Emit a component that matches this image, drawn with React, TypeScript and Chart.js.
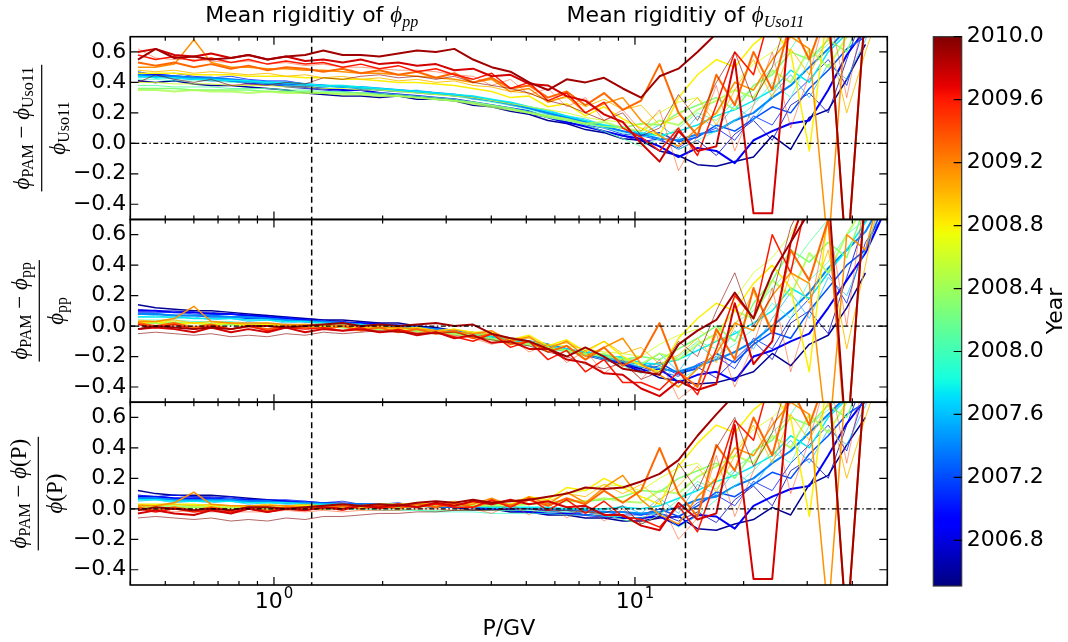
import React, { useEffect, useRef } from "react";
import { Chart, registerables } from "chart.js";

Chart.register(...registerables);

// ---------------- data ----------------
const rigidity = [
  0.42, 0.47, 0.53, 0.60, 0.67, 0.76, 0.85, 0.96, 1.08, 1.22,
  1.37, 1.55, 1.74, 1.96, 2.21, 2.49, 2.81, 3.16, 3.56, 4.01,
  4.52, 5.09, 5.74, 6.47, 7.29, 8.21, 9.25, 10.4, 11.7, 13.2,
  14.9, 16.8, 18.9, 21.3, 24.0, 27.0, 30.4, 34.3, 38.6, 43.5,
  48.0,
];

const years = [2006.58, 2006.72, 2006.88, 2007.05, 2007.22, 2007.40, 2007.58, 2007.75, 2007.92, 2008.10, 2008.28,
  2008.45, 2008.62, 2008.80, 2008.98, 2009.15, 2009.30, 2009.45, 2009.60, 2009.75, 2009.90, 2009.99];

// (phi_PAM - phi_Uso11) / phi_Uso11
const uso0658 = [0.41, 0.40, 0.41, 0.39, 0.38, 0.38, 0.37, 0.36, 0.35, 0.33, 0.32, 0.31, 0.31, 0.30, 0.31, 0.29, 0.29, 0.28, 0.25, 0.24, 0.21, 0.19, 0.15, 0.13, 0.09, 0.07, 0.03, 0.02, -0.05, -0.08, -0.14, -0.15, -0.12, -0.09, 0.05, -0.04, 0.17, 0.22, 0.42, 0.65, null];
const uso0672 = [0.45, 0.43, 0.44, 0.42, 0.41, 0.41, 0.39, 0.39, 0.37, 0.36, 0.35, 0.34, 0.33, 0.33, 0.31, 0.31, 0.29, 0.28, 0.27, 0.24, 0.23, 0.19, 0.17, 0.13, 0.12, 0.08, 0.05, 0.01, 0.03, -0.04, 0.02, -0.08, 0.06, 0.15, 0.02, 0.25, 0.33, 0.20, 0.55, 0.90, 0.90];
const uso0688 = [0.46, 0.45, 0.44, 0.43, 0.43, 0.41, 0.40, 0.39, 0.38, 0.37, 0.36, 0.35, 0.35, 0.33, 0.32, 0.31, 0.30, 0.29, 0.27, 0.25, 0.23, 0.21, 0.17, 0.14, 0.11, 0.08, 0.05, 0.03, -0.02, -0.09, -0.03, -0.05, -0.13, 0.02, 0.08, 0.13, 0.15, 0.35, 0.58, 0.75, 0.90];
const uso0705 = [0.47, 0.45, 0.46, 0.44, 0.43, 0.44, 0.42, 0.41, 0.41, 0.39, 0.38, 0.38, 0.36, 0.35, 0.35, 0.33, 0.32, 0.32, 0.29, 0.28, 0.25, 0.23, 0.19, 0.17, 0.12, 0.10, 0.06, 0.05, 0.02, -0.03, 0.05, 0.10, 0.02, 0.18, 0.12, 0.30, 0.42, 0.55, 0.38, 0.80, 0.90];
const uso0722 = [0.44, 0.44, 0.43, 0.42, 0.42, 0.41, 0.41, 0.40, 0.39, 0.38, 0.38, 0.37, 0.36, 0.35, 0.34, 0.34, 0.33, 0.31, 0.30, 0.28, 0.26, 0.23, 0.20, 0.17, 0.14, 0.11, 0.08, 0.05, 0.07, 0.01, 0.04, 0.12, 0.08, 0.16, 0.24, 0.20, 0.36, 0.48, 0.62, 0.70, 0.90];
const uso0740 = [0.45, 0.44, 0.44, 0.43, 0.43, 0.42, 0.41, 0.40, 0.40, 0.39, 0.38, 0.37, 0.37, 0.36, 0.35, 0.34, 0.33, 0.32, 0.30, 0.28, 0.26, 0.23, 0.20, 0.17, 0.14, 0.11, 0.08, 0.06, 0.03, 0.02, 0.06, 0.08, 0.15, 0.20, 0.30, 0.38, 0.50, 0.62, 0.75, 0.85, 0.90];
const uso0758 = [0.43, 0.44, 0.42, 0.43, 0.41, 0.42, 0.40, 0.41, 0.39, 0.39, 0.37, 0.38, 0.36, 0.36, 0.34, 0.35, 0.33, 0.32, 0.31, 0.28, 0.27, 0.24, 0.22, 0.18, 0.16, 0.12, 0.11, 0.06, 0.12, 0.03, 0.18, 0.10, 0.25, 0.15, 0.32, 0.45, 0.30, 0.52, 0.42, 0.68, 0.90];
const uso0775 = [0.44, 0.43, 0.43, 0.42, 0.42, 0.41, 0.41, 0.40, 0.40, 0.39, 0.38, 0.38, 0.37, 0.36, 0.35, 0.34, 0.33, 0.32, 0.31, 0.29, 0.27, 0.24, 0.21, 0.18, 0.15, 0.12, 0.10, 0.07, 0.05, 0.08, 0.12, 0.18, 0.22, 0.28, 0.35, 0.48, 0.40, 0.60, 0.72, 0.90, 0.90];
const uso0792 = [0.42, 0.42, 0.41, 0.41, 0.41, 0.40, 0.40, 0.39, 0.38, 0.38, 0.37, 0.37, 0.36, 0.35, 0.34, 0.33, 0.32, 0.31, 0.29, 0.27, 0.25, 0.22, 0.19, 0.16, 0.13, 0.10, 0.07, 0.04, 0.06, -0.04, 0.02, 0.08, 0.15, 0.25, 0.40, 0.30, 0.55, 0.65, 0.80, 0.90, 0.90];
const uso0810 = [0.38, 0.38, 0.37, 0.37, 0.37, 0.36, 0.36, 0.36, 0.35, 0.35, 0.34, 0.34, 0.33, 0.33, 0.32, 0.31, 0.30, 0.29, 0.27, 0.25, 0.23, 0.21, 0.18, 0.15, 0.12, 0.08, 0.03, -0.02, 0.03, 0.10, 0.20, 0.15, 0.28, 0.35, 0.50, 0.62, 0.80, 0.90, 0.90, 0.90, 0.90];
const uso0828 = [0.36, 0.36, 0.36, 0.35, 0.35, 0.35, 0.35, 0.34, 0.34, 0.34, 0.33, 0.33, 0.33, 0.32, 0.31, 0.30, 0.29, 0.28, 0.27, 0.25, 0.23, 0.20, 0.17, 0.15, 0.13, 0.11, 0.10, 0.13, 0.12, 0.20, 0.25, 0.30, 0.22, 0.38, 0.45, 0.60, 0.55, 0.68, 0.60, 0.90, 0.90];
const uso0845 = [0.35, 0.35, 0.34, 0.35, 0.34, 0.34, 0.33, 0.34, 0.33, 0.33, 0.33, 0.32, 0.32, 0.31, 0.31, 0.30, 0.29, 0.28, 0.26, 0.24, 0.22, 0.20, 0.18, 0.16, 0.13, 0.14, 0.10, 0.08, 0.15, 0.12, 0.22, 0.28, 0.35, 0.30, 0.48, 0.40, 0.62, 0.50, 0.70, 0.90, 0.90];
const uso0862 = [0.40, 0.40, 0.39, 0.39, 0.39, 0.38, 0.38, 0.38, 0.37, 0.37, 0.36, 0.36, 0.35, 0.35, 0.34, 0.33, 0.32, 0.31, 0.30, 0.28, 0.26, 0.24, 0.22, 0.20, 0.17, 0.15, 0.14, 0.12, 0.20, 0.27, 0.30, 0.18, 0.40, 0.52, 0.60, 0.72, 0.90, 0.90, 0.90, 0.90, 0.90];
const uso0880 = [0.46, 0.46, 0.46, 0.45, 0.45, 0.45, 0.44, 0.44, 0.44, 0.43, 0.43, 0.42, 0.42, 0.41, 0.40, 0.40, 0.39, 0.38, 0.36, 0.34, 0.30, 0.31, 0.24, 0.26, 0.18, 0.24, 0.16, 0.10, 0.05, 0.30, 0.45, 0.55, 0.50, 0.65, 0.75, 0.60, -0.05, 0.90, 0.90, 0.90, 0.90];
const uso0898 = [0.48, 0.47, 0.48, 0.46, 0.47, 0.46, 0.45, 0.46, 0.44, 0.45, 0.43, 0.44, 0.42, 0.43, 0.41, 0.42, 0.40, 0.41, 0.38, 0.37, 0.34, 0.33, 0.28, 0.30, 0.24, 0.29, 0.22, 0.25, 0.12, 0.18, 0.30, 0.12, 0.35, 0.55, 0.30, 0.62, 0.45, 0.70, 0.20, 0.60, 0.90];
const uso0915 = [0.50, 0.50, 0.52, 0.68, 0.53, 0.50, 0.50, 0.49, 0.49, 0.48, 0.48, 0.47, 0.46, 0.46, 0.45, 0.44, 0.43, 0.42, 0.40, 0.42, 0.34, 0.36, 0.27, 0.31, 0.20, 0.26, 0.30, 0.15, 0.05, -0.02, 0.10, 0.20, 0.40, 0.35, 0.55, 0.70, 0.62, -0.70, 0.90, 0.80, 0.90];
const uso0930 = [0.53, 0.51, 0.53, 0.50, 0.52, 0.49, 0.51, 0.48, 0.50, 0.49, 0.47, 0.49, 0.46, 0.48, 0.45, 0.47, 0.43, 0.46, 0.40, 0.43, 0.36, 0.38, 0.30, 0.34, 0.25, 0.33, 0.22, 0.28, 0.52, 0.20, 0.05, 0.45, 0.25, 0.60, 0.35, 0.80, 0.55, 0.90, -0.80, 0.90, 0.90];
const uso0945 = [0.62, 0.56, 0.55, 0.55, 0.54, 0.53, 0.54, 0.52, 0.53, 0.51, 0.52, 0.50, 0.50, 0.49, 0.48, 0.48, 0.47, 0.45, 0.44, 0.38, 0.42, 0.32, 0.36, 0.24, 0.30, 0.15, 0.22, 0.08, 0.22, -0.18, 0.05, 0.38, -0.05, 0.25, 0.60, 0.10, 0.45, 0.90, 0.30, 0.90, 0.90];
const uso0960 = [0.58, 0.55, 0.57, 0.54, 0.56, 0.53, 0.55, 0.52, 0.54, 0.52, 0.53, 0.50, 0.52, 0.49, 0.51, 0.47, 0.49, 0.45, 0.42, 0.46, 0.36, 0.40, 0.28, 0.33, 0.20, 0.27, 0.10, 0.04, -0.05, 0.10, -0.08, 0.25, 0.60, 0.45, 0.90, 0.70, 0.90, 0.90, 0.90, 0.90, 0.90];
const uso0975 = [0.60, 0.62, 0.58, 0.57, 0.59, 0.56, 0.58, 0.55, 0.57, 0.54, 0.55, 0.53, 0.55, 0.52, 0.53, 0.51, 0.52, 0.48, 0.49, 0.44, 0.45, 0.39, 0.38, 0.31, 0.28, 0.19, 0.14, 0.00, -0.12, 0.08, -0.05, -0.02, 0.55, -0.46, -0.46, 0.90, 0.90, 0.90, 0.90, 0.90, 0.90];
const uso0990 = [0.55, 0.62, 0.56, 0.57, 0.55, 0.56, 0.58, 0.55, 0.57, 0.58, 0.61, 0.58, 0.58, 0.57, 0.59, 0.61, 0.60, 0.62, 0.55, 0.50, 0.47, 0.40, 0.35, 0.42, 0.40, 0.43, 0.36, 0.30, 0.44, 0.49, 0.60, 0.72, 0.90, 0.90, 0.90, 0.90, 0.90, 0.90, -0.80, 0.90, null];
const uso0999 = [0.40, 0.45, 0.42, 0.40, 0.42, 0.38, 0.39, 0.38, 0.40, 0.39, 0.43, 0.42, 0.44, 0.45, 0.43, 0.44, 0.42, 0.44, 0.40, 0.38, 0.36, 0.33, 0.28, 0.25, 0.20, 0.15, 0.20, 0.05, 0.10, 0.32, 0.15, 0.40, 0.60, 0.28, 0.50, 0.90, 0.90, 0.90, 0.90, 0.90, 0.90];

// (phi_PAM - phi_pp) / phi_pp
const pp0658 = [0.14, 0.12, 0.11, 0.10, 0.10, 0.09, 0.08, 0.07, 0.06, 0.05, 0.04, 0.04, 0.03, 0.02, 0.02, 0.00, -0.01, -0.03, -0.05, -0.06, -0.09, -0.10, -0.13, -0.15, -0.19, -0.20, -0.25, -0.28, -0.34, -0.36, -0.38, -0.37, -0.34, -0.30, -0.18, -0.26, -0.12, -0.06, 0.12, 0.35, null];
const pp0672 = [0.11, 0.10, 0.10, 0.09, 0.09, 0.08, 0.07, 0.07, 0.05, 0.05, 0.04, 0.03, 0.02, 0.02, 0.00, 0.00, -0.02, -0.03, -0.04, -0.07, -0.08, -0.11, -0.12, -0.16, -0.17, -0.21, -0.24, -0.29, -0.26, -0.32, -0.27, -0.34, -0.22, -0.10, -0.22, 0.02, 0.10, -0.05, 0.32, 0.70, 0.90];
const pp0688 = [0.10, 0.10, 0.09, 0.09, 0.08, 0.08, 0.07, 0.06, 0.05, 0.04, 0.03, 0.02, 0.02, 0.01, 0.00, -0.01, -0.02, -0.03, -0.05, -0.07, -0.09, -0.11, -0.14, -0.16, -0.19, -0.22, -0.25, -0.30, -0.28, -0.37, -0.32, -0.30, -0.36, -0.20, -0.16, -0.10, -0.05, 0.12, 0.30, 0.48, 0.70];
const pp0705 = [0.09, 0.09, 0.09, 0.08, 0.07, 0.08, 0.06, 0.05, 0.06, 0.04, 0.03, 0.03, 0.01, 0.01, 0.01, -0.01, -0.02, -0.03, -0.05, -0.06, -0.09, -0.10, -0.13, -0.15, -0.19, -0.21, -0.25, -0.27, -0.30, -0.33, -0.25, -0.20, -0.28, -0.08, -0.15, 0.05, 0.18, 0.35, 0.15, 0.55, 0.70];
const pp0722 = [0.08, 0.08, 0.07, 0.07, 0.06, 0.06, 0.05, 0.05, 0.04, 0.03, 0.03, 0.02, 0.01, 0.00, -0.01, -0.01, -0.02, -0.04, -0.05, -0.07, -0.08, -0.11, -0.13, -0.16, -0.18, -0.21, -0.24, -0.27, -0.24, -0.31, -0.28, -0.18, -0.24, -0.12, -0.04, -0.08, 0.10, 0.25, 0.40, 0.50, 0.75];
const pp0740 = [0.08, 0.08, 0.07, 0.07, 0.07, 0.06, 0.06, 0.05, 0.04, 0.03, 0.03, 0.02, 0.01, 0.00, 0.00, -0.01, -0.02, -0.03, -0.05, -0.06, -0.08, -0.10, -0.12, -0.15, -0.18, -0.20, -0.23, -0.25, -0.28, -0.30, -0.26, -0.22, -0.17, -0.10, 0.00, 0.10, 0.22, 0.38, 0.50, 0.62, 0.80];
const pp0758 = [0.06, 0.07, 0.05, 0.06, 0.04, 0.05, 0.03, 0.04, 0.02, 0.03, 0.01, 0.02, 0.00, 0.00, -0.02, -0.01, -0.03, -0.04, -0.05, -0.08, -0.08, -0.11, -0.12, -0.16, -0.16, -0.20, -0.20, -0.26, -0.18, -0.30, -0.12, -0.22, -0.03, -0.15, 0.05, 0.22, 0.05, 0.32, 0.20, 0.50, 0.80];
const pp0775 = [0.06, 0.06, 0.06, 0.05, 0.05, 0.05, 0.04, 0.04, 0.03, 0.03, 0.02, 0.01, 0.01, 0.00, -0.01, -0.02, -0.03, -0.04, -0.05, -0.07, -0.09, -0.11, -0.13, -0.15, -0.17, -0.19, -0.21, -0.24, -0.25, -0.22, -0.16, -0.10, -0.05, 0.02, 0.10, 0.25, 0.18, 0.35, 0.50, 0.68, 0.85];
const pp0792 = [0.04, 0.04, 0.04, 0.03, 0.03, 0.03, 0.02, 0.02, 0.01, 0.00, 0.00, -0.01, -0.02, -0.02, -0.03, -0.03, -0.04, -0.05, -0.06, -0.08, -0.10, -0.12, -0.14, -0.16, -0.18, -0.21, -0.23, -0.27, -0.24, -0.36, -0.28, -0.20, -0.12, -0.02, 0.15, 0.05, 0.30, 0.42, 0.60, 0.70, 0.90];
const pp0810 = [0.03, 0.03, 0.02, 0.02, 0.02, 0.01, 0.01, 0.01, 0.00, 0.00, -0.01, -0.01, -0.02, -0.02, -0.03, -0.04, -0.05, -0.06, -0.07, -0.09, -0.11, -0.13, -0.15, -0.17, -0.19, -0.22, -0.26, -0.31, -0.27, -0.20, -0.10, -0.15, 0.02, 0.10, 0.25, 0.38, 0.55, 0.70, 0.90, 0.90, 0.90];
const pp0828 = [0.02, 0.02, 0.02, 0.02, 0.01, 0.01, 0.01, 0.01, 0.00, 0.00, 0.00, -0.01, -0.01, -0.02, -0.03, -0.03, -0.04, -0.05, -0.06, -0.08, -0.10, -0.12, -0.14, -0.16, -0.18, -0.20, -0.22, -0.20, -0.22, -0.15, -0.08, 0.00, -0.10, 0.15, 0.30, 0.50, 0.42, 0.55, 0.45, 0.80, 0.90];
const pp0845 = [0.02, 0.02, 0.01, 0.02, 0.01, 0.01, 0.00, 0.01, 0.00, 0.00, 0.00, -0.01, -0.01, -0.02, -0.02, -0.03, -0.04, -0.05, -0.07, -0.09, -0.11, -0.12, -0.14, -0.16, -0.19, -0.18, -0.22, -0.25, -0.18, -0.22, -0.12, -0.05, 0.10, 0.05, 0.30, 0.20, 0.48, 0.35, 0.60, 0.80, 0.90];
const pp0862 = [0.03, 0.03, 0.03, 0.02, 0.02, 0.02, 0.01, 0.01, 0.01, 0.00, 0.00, 0.00, -0.01, -0.01, -0.02, -0.02, -0.03, -0.04, -0.05, -0.06, -0.08, -0.10, -0.12, -0.13, -0.15, -0.17, -0.18, -0.20, -0.12, -0.06, -0.02, -0.10, 0.18, 0.35, 0.45, 0.60, 0.85, 0.90, 0.90, 0.90, 0.90];
const pp0880 = [0.02, 0.03, 0.01, 0.02, 0.01, 0.02, 0.00, 0.01, 0.00, 0.01, -0.01, 0.00, -0.01, 0.00, -0.02, -0.01, -0.03, -0.02, -0.04, -0.04, -0.09, -0.06, -0.13, -0.09, -0.17, -0.10, -0.20, -0.26, -0.30, -0.08, 0.05, 0.15, 0.10, 0.28, 0.40, 0.25, -0.30, 0.75, 0.90, 0.90, 0.90];
const pp0898 = [0.04, 0.03, 0.04, 0.02, 0.03, 0.02, 0.01, 0.02, 0.00, 0.01, 0.00, 0.01, -0.01, 0.00, -0.02, -0.01, -0.03, -0.02, -0.05, -0.05, -0.08, -0.08, -0.13, -0.11, -0.16, -0.10, -0.18, -0.14, -0.25, -0.19, -0.08, -0.24, 0.00, 0.22, -0.02, 0.35, 0.15, 0.50, -0.15, 0.40, 0.90];
const pp0915 = [0.03, 0.03, 0.05, 0.13, 0.03, 0.02, 0.02, 0.02, 0.01, 0.01, 0.01, 0.00, 0.00, -0.01, -0.01, -0.02, -0.03, -0.04, -0.05, -0.03, -0.10, -0.07, -0.15, -0.10, -0.20, -0.14, -0.08, -0.25, -0.32, -0.40, -0.28, -0.18, 0.02, -0.03, 0.20, 0.35, 0.28, -0.80, 0.60, 0.50, 0.90];
const pp0930 = [0.02, 0.00, 0.02, -0.01, 0.01, -0.02, 0.00, -0.02, 0.00, -0.01, -0.02, 0.00, -0.03, -0.01, -0.04, -0.02, -0.05, -0.03, -0.08, -0.05, -0.12, -0.10, -0.17, -0.13, -0.22, -0.14, -0.26, -0.20, 0.02, -0.30, -0.40, -0.02, -0.22, 0.25, -0.05, 0.50, 0.30, 0.70, -0.80, 0.90, 0.90];
const pp0945 = [0.01, 0.00, -0.01, 0.00, -0.01, -0.02, -0.01, -0.02, -0.01, -0.02, -0.02, -0.03, -0.03, -0.03, -0.04, -0.04, -0.05, -0.06, -0.08, -0.12, -0.08, -0.17, -0.12, -0.24, -0.16, -0.31, -0.22, -0.35, -0.22, -0.48, -0.38, -0.05, -0.40, -0.12, 0.25, -0.30, 0.10, 0.70, 0.00, 0.90, 0.90];
const pp0960 = [0.01, -0.01, 0.01, -0.02, 0.00, -0.02, 0.00, -0.03, -0.01, -0.02, -0.01, -0.03, -0.01, -0.04, -0.02, -0.05, -0.04, -0.07, -0.10, -0.05, -0.14, -0.10, -0.22, -0.16, -0.30, -0.22, -0.37, -0.37, -0.42, -0.30, -0.45, -0.15, 0.20, 0.05, 0.60, 0.35, 0.90, 0.90, 0.90, 0.90, 0.90];
const pp0975 = [-0.02, -0.01, -0.02, -0.04, -0.01, -0.04, -0.02, -0.04, -0.01, -0.04, -0.02, -0.03, -0.02, -0.04, -0.03, -0.06, -0.04, -0.08, -0.06, -0.11, -0.10, -0.15, -0.15, -0.22, -0.24, -0.31, -0.32, -0.41, -0.46, -0.36, -0.42, -0.38, 0.15, -0.25, -0.10, 0.55, 0.90, 0.90, 0.90, 0.90, 0.90];
const pp0990 = [-0.02, 0.00, -0.01, -0.02, -0.01, -0.02, 0.00, 0.00, -0.01, 0.00, 0.01, 0.02, 0.00, 0.01, 0.00, 0.01, 0.02, 0.00, 0.01, -0.05, -0.08, -0.10, -0.15, -0.20, -0.14, -0.20, -0.28, -0.30, -0.32, -0.12, -0.03, 0.04, 0.22, 0.05, 0.35, 0.55, 0.75, 0.90, -0.80, 0.90, null];
const pp0999 = [-0.05, -0.04, -0.05, -0.06, -0.05, -0.07, -0.06, -0.07, -0.05, -0.06, -0.04, -0.05, -0.04, -0.03, -0.04, -0.05, -0.05, -0.04, -0.07, -0.09, -0.11, -0.13, -0.17, -0.20, -0.25, -0.28, -0.24, -0.35, -0.30, -0.10, -0.20, 0.10, 0.35, 0.00, 0.20, 0.65, 0.90, 0.90, 0.90, 0.90, 0.90];

// (phi_PAM - phi(P)) / phi(P)
const fp0658 = [0.12, 0.10, 0.09, 0.09, 0.09, 0.08, 0.07, 0.06, 0.05, 0.04, 0.04, 0.03, 0.03, 0.02, 0.03, 0.02, 0.01, 0.01, -0.01, 0.00, -0.02, -0.02, -0.04, -0.04, -0.06, -0.06, -0.08, -0.08, -0.06, -0.05, -0.13, -0.14, -0.10, -0.07, 0.01, -0.04, 0.16, 0.22, 0.42, 0.60, null];
const fp0672 = [0.09, 0.08, 0.09, 0.08, 0.08, 0.07, 0.06, 0.06, 0.05, 0.05, 0.04, 0.04, 0.03, 0.03, 0.02, 0.02, 0.01, 0.01, 0.01, 0.00, 0.00, -0.02, -0.01, -0.03, -0.02, -0.04, -0.05, -0.07, -0.03, -0.08, -0.02, -0.09, 0.06, 0.15, 0.02, 0.25, 0.33, 0.20, 0.55, 0.88, 0.90];
const fp0688 = [0.08, 0.08, 0.07, 0.07, 0.07, 0.06, 0.06, 0.05, 0.05, 0.04, 0.03, 0.03, 0.03, 0.02, 0.02, 0.02, 0.02, 0.01, 0.01, 0.00, -0.01, -0.02, -0.03, -0.03, -0.04, -0.05, -0.06, -0.06, -0.05, -0.11, -0.04, -0.05, -0.13, 0.02, 0.08, 0.13, 0.15, 0.35, 0.56, 0.72, 0.90];
const fp0705 = [0.09, 0.08, 0.09, 0.08, 0.07, 0.08, 0.06, 0.06, 0.06, 0.05, 0.04, 0.05, 0.03, 0.03, 0.04, 0.02, 0.02, 0.03, 0.01, 0.02, 0.00, 0.00, -0.02, -0.01, -0.04, -0.02, -0.04, -0.04, -0.03, -0.06, 0.04, 0.09, 0.02, 0.18, 0.12, 0.30, 0.42, 0.55, 0.38, 0.78, 0.90];
const fp0722 = [0.07, 0.07, 0.06, 0.06, 0.06, 0.05, 0.05, 0.05, 0.04, 0.04, 0.04, 0.03, 0.03, 0.03, 0.03, 0.03, 0.02, 0.02, 0.02, 0.01, 0.01, 0.00, 0.00, -0.01, -0.01, -0.02, -0.02, -0.04, 0.00, -0.05, 0.02, 0.11, 0.08, 0.16, 0.24, 0.20, 0.36, 0.48, 0.62, 0.70, 0.90];
const fp0740 = [0.07, 0.07, 0.06, 0.06, 0.06, 0.06, 0.05, 0.05, 0.04, 0.04, 0.03, 0.03, 0.03, 0.03, 0.02, 0.02, 0.02, 0.02, 0.01, 0.01, 0.01, 0.00, 0.00, -0.01, -0.01, -0.02, -0.02, -0.03, -0.02, 0.01, 0.06, 0.08, 0.15, 0.20, 0.30, 0.38, 0.50, 0.62, 0.74, 0.85, 0.90];
const fp0758 = [0.05, 0.06, 0.04, 0.05, 0.04, 0.05, 0.03, 0.04, 0.03, 0.03, 0.02, 0.03, 0.02, 0.02, 0.01, 0.02, 0.01, 0.01, 0.02, 0.00, 0.01, 0.00, 0.01, -0.01, 0.01, -0.01, 0.02, -0.03, 0.07, -0.03, 0.16, 0.09, 0.25, 0.15, 0.32, 0.45, 0.30, 0.52, 0.42, 0.68, 0.90];
const fp0775 = [0.06, 0.06, 0.05, 0.05, 0.05, 0.05, 0.04, 0.04, 0.04, 0.03, 0.03, 0.03, 0.02, 0.02, 0.02, 0.02, 0.02, 0.02, 0.02, 0.01, 0.01, 0.01, 0.01, 0.00, 0.00, 0.00, 0.01, 0.00, 0.02, 0.07, 0.12, 0.18, 0.22, 0.28, 0.35, 0.48, 0.40, 0.60, 0.72, 0.90, 0.90];
const fp0792 = [0.03, 0.03, 0.03, 0.02, 0.02, 0.02, 0.02, 0.01, 0.01, 0.01, 0.00, 0.00, 0.00, -0.01, -0.01, -0.01, -0.02, -0.02, -0.02, -0.03, -0.03, -0.03, -0.03, -0.04, -0.04, -0.05, -0.05, -0.06, -0.02, -0.12, -0.04, 0.06, 0.15, 0.25, 0.38, 0.30, 0.55, 0.65, 0.80, 0.90, 0.90];
const fp0810 = [0.02, 0.02, 0.02, 0.01, 0.01, 0.01, 0.01, 0.00, 0.00, 0.00, 0.00, 0.00, 0.00, 0.00, 0.00, -0.01, -0.01, -0.01, -0.01, -0.01, -0.01, -0.01, -0.02, -0.02, -0.02, -0.04, -0.07, -0.10, -0.04, 0.06, 0.18, 0.13, 0.27, 0.35, 0.50, 0.62, 0.80, 0.90, 0.90, 0.90, 0.90];
const fp0828 = [0.01, 0.01, 0.01, 0.01, 0.01, 0.01, 0.01, 0.00, 0.00, 0.00, 0.00, 0.00, 0.01, 0.01, 0.01, 0.01, 0.02, 0.02, 0.02, 0.03, 0.03, 0.03, 0.04, 0.05, 0.05, 0.06, 0.08, 0.12, 0.11, 0.20, 0.25, 0.30, 0.20, 0.38, 0.45, 0.60, 0.55, 0.68, 0.60, 0.90, 0.90];
const fp0845 = [0.01, 0.01, 0.00, 0.01, 0.00, 0.00, 0.00, 0.01, 0.00, 0.00, 0.01, 0.01, 0.01, 0.01, 0.02, 0.02, 0.02, 0.02, 0.02, 0.02, 0.02, 0.03, 0.04, 0.05, 0.05, 0.07, 0.05, 0.04, 0.12, 0.10, 0.21, 0.28, 0.35, 0.30, 0.48, 0.40, 0.62, 0.50, 0.70, 0.90, 0.90];
const fp0862 = [0.02, 0.02, 0.02, 0.02, 0.01, 0.01, 0.01, 0.01, 0.01, 0.01, 0.01, 0.01, 0.01, 0.01, 0.02, 0.02, 0.02, 0.03, 0.03, 0.04, 0.05, 0.06, 0.08, 0.10, 0.12, 0.16, 0.15, 0.12, 0.20, 0.27, 0.30, 0.17, 0.40, 0.52, 0.60, 0.72, 0.90, 0.90, 0.90, 0.90, 0.90];
const fp0880 = [0.03, 0.03, 0.03, 0.03, 0.02, 0.02, 0.02, 0.02, 0.02, 0.02, 0.02, 0.02, 0.02, 0.03, 0.03, 0.03, 0.03, 0.03, 0.04, 0.04, 0.03, 0.08, 0.06, 0.14, 0.12, 0.20, 0.14, 0.08, 0.03, 0.28, 0.43, 0.55, 0.50, 0.65, 0.75, 0.60, -0.05, 0.90, 0.90, 0.90, 0.90];
const fp0898 = [0.03, 0.02, 0.03, 0.02, 0.03, 0.02, 0.02, 0.03, 0.02, 0.03, 0.02, 0.03, 0.02, 0.03, 0.03, 0.04, 0.03, 0.05, 0.04, 0.05, 0.05, 0.07, 0.05, 0.10, 0.08, 0.16, 0.10, 0.16, 0.06, 0.15, 0.28, 0.11, 0.35, 0.55, 0.30, 0.62, 0.45, 0.70, 0.20, 0.60, 0.90];
const fp0915 = [0.02, 0.02, 0.04, 0.11, 0.03, 0.02, 0.02, 0.02, 0.02, 0.01, 0.01, 0.02, 0.02, 0.02, 0.02, 0.03, 0.03, 0.03, 0.03, 0.07, 0.02, 0.08, 0.03, 0.11, 0.04, 0.14, 0.22, 0.06, -0.04, -0.10, 0.08, 0.20, 0.40, 0.35, 0.55, 0.70, 0.62, -0.70, 0.90, 0.80, 0.90];
const fp0930 = [0.01, -0.01, 0.01, -0.01, 0.01, -0.01, 0.01, -0.01, 0.01, 0.00, 0.00, 0.02, 0.00, 0.02, 0.00, 0.03, 0.01, 0.04, 0.01, 0.05, 0.02, 0.06, 0.02, 0.07, 0.03, 0.12, 0.04, 0.12, 0.40, 0.10, -0.05, 0.42, 0.25, 0.60, 0.35, 0.80, 0.55, 0.90, -0.80, 0.90, 0.90];
const fp0945 = [0.00, -0.01, -0.02, -0.01, -0.02, -0.02, -0.02, -0.02, -0.01, -0.02, -0.01, -0.02, -0.01, -0.01, -0.01, 0.00, 0.00, -0.01, 0.00, -0.03, 0.03, -0.04, 0.04, -0.06, 0.02, -0.08, 0.00, -0.09, 0.06, -0.20, -0.06, 0.35, -0.05, 0.25, 0.60, 0.10, 0.45, 0.90, 0.30, 0.90, 0.90];
const fp0960 = [0.00, -0.02, 0.00, -0.02, -0.01, -0.02, 0.00, -0.02, 0.00, -0.01, 0.01, -0.01, 0.02, 0.00, 0.02, 0.01, 0.03, 0.01, 0.01, 0.06, 0.01, 0.07, -0.01, 0.06, -0.03, 0.05, -0.05, -0.07, -0.12, 0.02, -0.15, 0.20, 0.58, 0.45, 0.90, 0.70, 0.90, 0.90, 0.90, 0.90, 0.90];
const fp0975 = [-0.03, -0.01, -0.03, -0.04, -0.01, -0.03, 0.00, -0.02, 0.00, -0.01, 0.01, 0.00, 0.02, 0.01, 0.03, 0.01, 0.04, 0.02, 0.05, 0.03, 0.06, 0.03, 0.05, 0.01, 0.02, -0.04, -0.04, -0.11, -0.14, 0.04, -0.07, -0.03, 0.55, -0.46, -0.46, 0.90, 0.90, 0.90, 0.90, 0.90, 0.90];
const fp0990 = [-0.01, 0.01, 0.00, -0.01, 0.00, -0.01, 0.01, 0.01, 0.00, 0.01, 0.02, 0.03, 0.02, 0.03, 0.02, 0.04, 0.05, 0.04, 0.06, 0.04, 0.05, 0.06, 0.08, 0.10, 0.14, 0.13, 0.14, 0.18, 0.23, 0.32, 0.48, 0.62, 0.75, 0.90, 0.90, 0.90, 0.90, 0.90, -0.80, 0.90, null];
const fp0999 = [-0.06, -0.05, -0.06, -0.07, -0.06, -0.08, -0.07, -0.08, -0.06, -0.07, -0.05, -0.05, -0.04, -0.03, -0.03, -0.02, -0.02, -0.01, -0.01, -0.01, 0.00, 0.00, -0.01, -0.01, -0.02, -0.03, 0.02, -0.10, -0.05, 0.30, 0.12, 0.40, 0.60, 0.28, 0.50, 0.90, 0.90, 0.90, 0.90, 0.90, 0.90];

const usoSeries = [uso0658, uso0672, uso0688, uso0705, uso0722, uso0740, uso0758, uso0775, uso0792, uso0810, uso0828, uso0845, uso0862, uso0880, uso0898, uso0915, uso0930, uso0945, uso0960, uso0975, uso0990, uso0999];
const ppSeries = [pp0658, pp0672, pp0688, pp0705, pp0722, pp0740, pp0758, pp0775, pp0792, pp0810, pp0828, pp0845, pp0862, pp0880, pp0898, pp0915, pp0930, pp0945, pp0960, pp0975, pp0990, pp0999];
const fpSeries = [fp0658, fp0672, fp0688, fp0705, fp0722, fp0740, fp0758, fp0775, fp0792, fp0810, fp0828, fp0845, fp0862, fp0880, fp0898, fp0915, fp0930, fp0945, fp0960, fp0975, fp0990, fp0999];

// tick / reference values
const yTickValues = [-0.4, -0.2, 0.0, 0.2, 0.4, 0.6];
const xMajorTicks = [1, 10];
const xMinorTicks = [0.4, 0.5, 0.6, 0.7, 0.8, 0.9, 2, 3, 4, 5, 6, 7, 8, 9, 20, 30, 40, 50];
const meanRigidities = [1.272, 13.8];
const colorbarTicks = [2006.8, 2007.2, 2007.6, 2008.0, 2008.4, 2008.8, 2009.2, 2009.6, 2010.0];
const YEAR_MIN = 2006.51;
const YEAR_MAX = 2010.0;

// ---------------- styles ----------------
const lineWidths = [1.5, 1, 2, 1, 1.5, 2, 1, 1.5, 1, 1, 1.5, 2, 1, 1.5, 1, 1.5, 2, 1, 1.5, 2, 2, 1];
const lineAlphas = [1, 0.8, 1, 0.8, 1, 1, 0.7, 1, 0.7, 0.85, 1, 0.8, 0.85, 1, 0.9, 1, 1, 0.5, 1, 1, 1, 0.6];

const jetR = [[0, 0], [0.35, 0], [0.66, 1], [0.89, 1], [1, 0.5]];
const jetG = [[0, 0], [0.125, 0], [0.375, 1], [0.64, 1], [0.91, 0], [1, 0]];
const jetB = [[0, 0.5], [0.11, 1], [0.34, 1], [0.65, 0], [1, 0]];
function seg(tab: number[][], t: number) {
  if (t <= tab[0][0]) return tab[0][1];
  for (let i = 1; i < tab.length; i++) {
    if (t <= tab[i][0]) {
      const [x0, y0] = tab[i - 1];
      const [x1, y1] = tab[i];
      return y0 + ((t - x0) / (x1 - x0)) * (y1 - y0);
    }
  }
  return tab[tab.length - 1][1];
}
function jet(t: number, a = 1) {
  const c = (v: number) => Math.round(Math.max(0, Math.min(1, v)) * 255);
  return `rgba(${c(seg(jetR, t))},${c(seg(jetG, t))},${c(seg(jetB, t))},${a})`;
}
const yearT = (y: number) => (y - YEAR_MIN) / (YEAR_MAX - YEAR_MIN);

const SANS = '"DejaVu Sans"';
const SERIF = '"Liberation Serif", "DejaVu Serif"';
const PHI = "\u03D5";
const CB = { left: 933.3, right: 961.7, top: 36.7, bottom: 586 };

type Seg = [string, string, number];
function segsWidth(ctx: CanvasRenderingContext2D, segs: Seg[]) {
  let w = 0;
  for (const s of segs) { ctx.font = s[1]; w += ctx.measureText(s[0]).width; }
  return w;
}
function drawSegs(ctx: CanvasRenderingContext2D, segs: Seg[], x: number, y: number) {
  let cx = x;
  for (const s of segs) {
    ctx.font = s[1];
    ctx.fillText(s[0], cx, y + s[2]);
    cx += ctx.measureText(s[0]).width;
  }
}

const fPhi = `italic 23px ${SERIF}`;
const fMain = `23px ${SERIF}`;
const fSub = `16px ${SERIF}`;
const SD = 4;
const yLabelDefs: { num: Seg[]; den: Seg[]; barX: number }[] = [
  {
    num: [[PHI, fPhi, 0], ["PAM", fSub, SD], [" \u2212 ", fMain, 0], [PHI, fPhi, 0], ["Uso11", fSub, SD]],
    den: [[PHI, fPhi, 0], ["Uso11", fSub, SD]],
    barX: 41.7,
  },
  {
    num: [[PHI, fPhi, 0], ["PAM", fSub, SD], [" \u2212 ", fMain, 0], [PHI, fPhi, 0], ["pp", fSub, SD]],
    den: [[PHI, fPhi, 0], ["pp", fSub, SD]],
    barX: 39.3,
  },
  {
    num: [[PHI, fPhi, 0], ["PAM", fSub, SD], [" \u2212 ", fMain, 0], [PHI, fPhi, 0], ["(P)", fMain, 0]],
    den: [[PHI, fPhi, 0], ["(P)", fMain, 0]],
    barX: 38.3,
  },
];
const titleDefs: Seg[][] = [
  [["Mean rigiditiy of ", `22px ${SANS}`, 0], [PHI, `italic 23px ${SERIF}`, 0], ["pp", `italic 16px ${SERIF}`, 5]],
  [["Mean rigiditiy of ", `22px ${SANS}`, 0], [PHI, `italic 23px ${SERIF}`, 0], ["Uso11", `italic 16px ${SERIF}`, 5]],
];

const panelIds = ["yA", "yB", "yC"];

const decor = {
  id: "decor",
  afterDraw(chart: any) {
    const ctx: CanvasRenderingContext2D = chart.ctx;
    const xs = chart.scales.x;
    ctx.save();
    panelIds.forEach((id, pi) => {
      const ys = chart.scales[id];
      const top = ys.top, bottom = ys.bottom, left = xs.left, right = xs.right;
      // reference lines
      ctx.save();
      ctx.beginPath();
      ctx.rect(left, top, right - left, bottom - top);
      ctx.clip();
      ctx.strokeStyle = "#000";
      ctx.lineWidth = 1.5;
      ctx.setLineDash([6, 4]);
      for (const r of meanRigidities) {
        const px = xs.getPixelForValue(r);
        ctx.beginPath();
        ctx.moveTo(px, top);
        ctx.lineTo(px, bottom);
        ctx.stroke();
      }
      ctx.lineWidth = 1.3;
      ctx.setLineDash([5, 2.5, 1.5, 2.5]);
      const y0 = ys.getPixelForValue(0);
      ctx.beginPath();
      ctx.moveTo(left, y0);
      ctx.lineTo(right, y0);
      ctx.stroke();
      ctx.restore();

      // ticks
      ctx.setLineDash([]);
      ctx.strokeStyle = "#000";
      ctx.lineWidth = 1.2;
      ctx.beginPath();
      for (const v of xMajorTicks) {
        const px = xs.getPixelForValue(v);
        ctx.moveTo(px, top); ctx.lineTo(px, top + 8);
        ctx.moveTo(px, bottom); ctx.lineTo(px, bottom - 8);
      }
      for (const v of xMinorTicks) {
        const px = xs.getPixelForValue(v);
        ctx.moveTo(px, top); ctx.lineTo(px, top + 4);
        ctx.moveTo(px, bottom); ctx.lineTo(px, bottom - 4);
      }
      for (const v of yTickValues) {
        const py = ys.getPixelForValue(v);
        ctx.moveTo(left, py); ctx.lineTo(left + 8, py);
        ctx.moveTo(right, py); ctx.lineTo(right - 8, py);
      }
      ctx.stroke();
      ctx.lineWidth = 1.6;
      ctx.strokeRect(left, top, right - left, bottom - top);

      // y label (fraction)
      const def = yLabelDefs[pi];
      const cy = (top + bottom) / 2;
      ctx.save();
      ctx.translate(def.barX, cy);
      ctx.rotate(-Math.PI / 2);
      ctx.fillStyle = "#000";
      ctx.textAlign = "left";
      ctx.textBaseline = "alphabetic";
      const nw = segsWidth(ctx, def.num);
      const dw = segsWidth(ctx, def.den);
      const L = Math.max(nw, dw) + 4;
      ctx.fillRect(-L / 2, -0.6, L, 1.2);
      drawSegs(ctx, def.num, -nw / 2, -12.5);
      drawSegs(ctx, def.den, -dw / 2, 23.3);
      ctx.restore();
    });

    // x tick labels
    ctx.fillStyle = "#000";
    ctx.textAlign = "left";
    ctx.textBaseline = "alphabetic";
    for (const v of xMajorTicks) {
      const px = xs.getPixelForValue(v);
      const exp = String(Math.round(Math.log10(v)));
      ctx.font = `22px ${SANS}`;
      const w1 = ctx.measureText("10").width;
      ctx.font = `15px ${SANS}`;
      const w2 = ctx.measureText(exp).width;
      const start = px - (w1 + w2 + 1) / 2;
      ctx.font = `22px ${SANS}`;
      ctx.fillText("10", start, 608);
      ctx.font = `15px ${SANS}`;
      ctx.fillText(exp, start + w1 + 1, 598);
    }
    ctx.font = `22px ${SANS}`;
    ctx.textAlign = "center";
    ctx.fillText("P/GV", (xs.left + xs.right) / 2, 635);

    // titles
    ctx.textAlign = "left";
    meanRigidities.forEach((r, i) => {
      const px = xs.getPixelForValue(r);
      const w = segsWidth(ctx, titleDefs[i]);
      drawSegs(ctx, titleDefs[i], px - w / 2, 22);
    });

    // colorbar
    const g = ctx.createLinearGradient(0, CB.bottom, 0, CB.top);
    for (let k = 0; k <= 100; k++) g.addColorStop(k / 100, jet(k / 100));
    ctx.fillStyle = g;
    ctx.fillRect(CB.left, CB.top, CB.right - CB.left, CB.bottom - CB.top);
    ctx.strokeStyle = "#333";
    ctx.lineWidth = 1.2;
    ctx.strokeRect(CB.left, CB.top, CB.right - CB.left, CB.bottom - CB.top);
    ctx.strokeStyle = "#000";
    ctx.fillStyle = "#000";
    ctx.font = `22px ${SANS}`;
    ctx.textAlign = "left";
    ctx.textBaseline = "middle";
    ctx.beginPath();
    for (const v of colorbarTicks) {
      const py = CB.bottom - yearT(v) * (CB.bottom - CB.top);
      ctx.moveTo(CB.right - 8, py);
      ctx.lineTo(CB.right, py);
      ctx.fillText(v.toFixed(1), CB.right + 5, py);
    }
    ctx.stroke();
    ctx.save();
    ctx.translate(1056, 311);
    ctx.rotate(-Math.PI / 2);
    ctx.textAlign = "center";
    ctx.textBaseline = "middle";
    ctx.fillText("Year", 0, 0);
    ctx.restore();
    ctx.restore();
  },
};

function yScale() {
  return {
    type: "linear",
    min: -0.5,
    max: 0.7,
    position: "left",
    stack: "panels",
    stackWeight: 1,
    grid: { display: false, drawTicks: false },
    border: { display: false },
    ticks: {
      color: "#000",
      padding: 4,
      autoSkip: false,
      font: { family: "DejaVu Sans", size: 22 },
      callback: (v: number) => Number(v).toFixed(1).replace("-", "\u2212"),
    },
    afterBuildTicks: (s: any) => {
      s.ticks = yTickValues.map((v) => ({ value: v }));
    },
    afterFit: (s: any) => {
      s.width = 130.3;
    },
  };
}

export default function App() {
  const ref = useRef<HTMLCanvasElement>(null);
  useEffect(() => {
    const datasets: any[] = [];
    const groups = [usoSeries, ppSeries, fpSeries];
    groups.forEach((series, pi) => {
      for (let i = series.length - 1; i >= 0; i--) {
        const vals = series[i];
        datasets.push({
          data: rigidity.map((x, j) => ({ x, y: vals[j] })),
          xAxisID: "x",
          yAxisID: panelIds[pi],
          borderColor: jet(yearT(years[i]), lineAlphas[i]),
          borderWidth: lineWidths[i],
          pointRadius: 0,
          fill: false,
          tension: 0,
          borderJoinStyle: "round",
          spanGaps: false,
        });
      }
    });
    const chart = new Chart(ref.current as HTMLCanvasElement, {
      type: "line",
      data: { datasets },
      options: {
        animation: false,
        responsive: false,
        devicePixelRatio: 1,
        events: [],
        layout: { padding: { left: 0, top: 36.7, right: 1068 - 887.3, bottom: 0 } },
        plugins: { legend: { display: false }, tooltip: { enabled: false }, title: { display: false } },
        scales: {
          x: {
            type: "logarithmic",
            min: 0.4,
            max: 50,
            position: "bottom",
            grid: { display: false, drawTicks: false },
            border: { display: false },
            ticks: { display: false },
            afterFit: (s: any) => {
              s.height = 57;
            },
          },
          yC: yScale(),
          yB: yScale(),
          yA: yScale(),
        },
      } as any,
      plugins: [decor],
    });
    return () => chart.destroy();
  }, []);
  return (
    <div style={{ position: "absolute", left: 0, top: 0, width: 1068, height: 642, background: "#fff" }}>
      <canvas ref={ref} width={1068} height={642} style={{ display: "block", width: 1068, height: 642 }} />
    </div>
  );
}
